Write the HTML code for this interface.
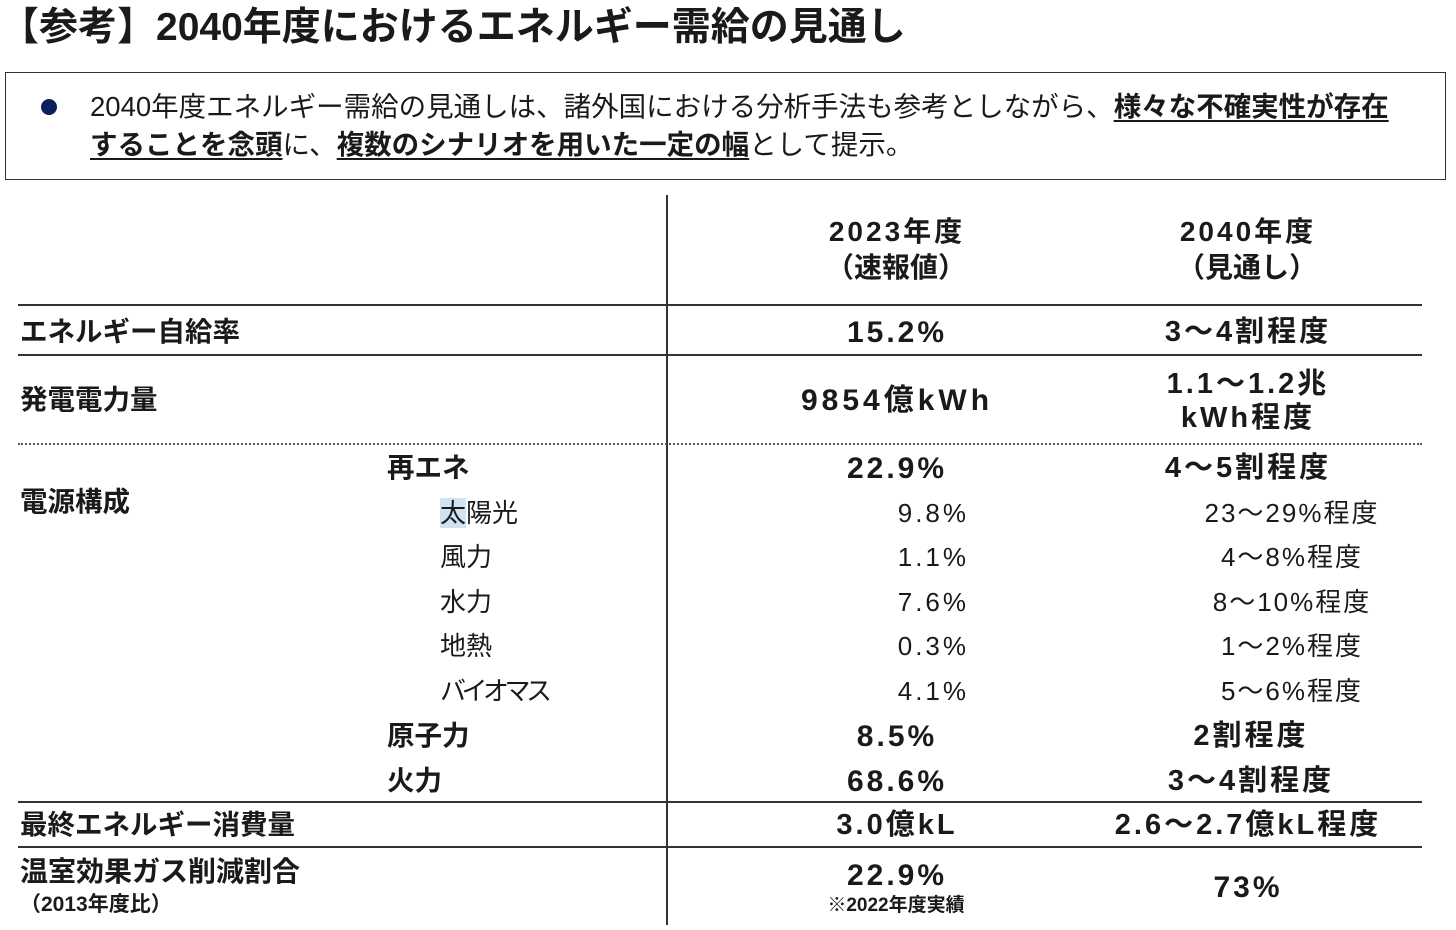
<!DOCTYPE html>
<html><head><meta charset="utf-8">
<style>
body{margin:0;width:1456px;height:930px;background:#fff;position:relative;overflow:hidden;font-family:"Liberation Sans","Noto Sans CJK JP",sans-serif;color:#1a1a1a}
.t{position:absolute;white-space:nowrap;line-height:1}
.b{font-weight:bold}
.c{transform:translateX(-50%)}
.r{transform:translateX(-100%)}
.v{letter-spacing:3px}
.s{letter-spacing:2px}
.hl{position:absolute;height:2px;background:#333}
u{text-underline-offset:4px;text-decoration-thickness:2px}
</style></head><body>
<div class="t b" style="left:0;top:8px;font-size:39px;">【参考】2040年度におけるエネルギー需給の見通し</div>

<div style="position:absolute;left:5px;top:72px;width:1439px;height:106px;border:1.5px solid #333;"></div>
<div style="position:absolute;left:41px;top:99px;width:16px;height:16px;border-radius:50%;background:#0b1f5c"></div>
<div class="t" style="left:90px;top:93px;font-size:27.5px;">2040年度エネルギー需給の見通しは、諸外国における分析手法も参考としながら、<u class="b">様々な不確実性が存在</u></div>
<div class="t" style="left:90px;top:131px;font-size:27.5px;"><u class="b">することを念頭</u>に、<u class="b">複数のシナリオを用いた一定の幅</u>として提示。</div>

<div style="position:absolute;left:666px;top:195px;width:2px;height:730px;background:#333"></div>
<div class="hl" style="left:18px;top:304px;width:1404px"></div>
<div class="hl" style="left:18px;top:354px;width:1404px"></div>
<div style="position:absolute;left:18px;top:443px;width:1404px;border-top:2px dotted #555"></div>
<div class="hl" style="left:18px;top:801px;width:1404px"></div>
<div class="hl" style="left:18px;top:846px;width:1404px"></div>

<div class="t b c v" style="left:897px;top:218px;font-size:28px;">2023年度</div>
<div class="t b c" style="left:896px;top:254px;font-size:28px;">（速報値）</div>
<div class="t b c v" style="left:1248px;top:218px;font-size:28px;">2040年度</div>
<div class="t b c" style="left:1247px;top:254px;font-size:28px;">（見通し）</div>

<div class="t b" style="left:20px;top:318px;font-size:27.5px;">エネルギー自給率</div>
<div class="t b c v" style="left:897px;top:318px;font-size:30px;">15.2%</div>
<div class="t b c v" style="left:1248px;top:318px;font-size:29px;">3～4割程度</div>

<div class="t b" style="left:20px;top:386px;font-size:27.5px;">発電電力量</div>
<div class="t b c v" style="left:897px;top:386px;font-size:30px;letter-spacing:4px">9854億kWh</div>
<div class="t b c v" style="left:1248px;top:370px;font-size:29px;">1.1～1.2兆</div>
<div class="t b c v" style="left:1248px;top:404px;font-size:29px;">kWh程度</div>

<div class="t b" style="left:20px;top:488px;font-size:27.5px;">電源構成</div>
<div class="t b" style="left:387px;top:454px;font-size:27.5px;">再エネ</div>
<div class="t b c v" style="left:897px;top:454px;font-size:30px;">22.9%</div>
<div class="t b c v" style="left:1248px;top:454px;font-size:29px;">4～5割程度</div>

<div class="t" style="left:440px;top:500px;font-size:26px;"><span style="background:#cfe3f3">太</span>陽光</div>
<div class="t r v" style="left:969px;top:500px;font-size:26px;">9.8%</div>
<div class="t c s" style="left:1292px;top:500px;font-size:26px;">23～29%程度</div>
<div class="t" style="left:440px;top:544px;font-size:26px;">風力</div>
<div class="t r v" style="left:969px;top:544px;font-size:26px;">1.1%</div>
<div class="t c s" style="left:1292px;top:544px;font-size:26px;">4～8%程度</div>
<div class="t" style="left:440px;top:589px;font-size:26px;">水力</div>
<div class="t r v" style="left:969px;top:589px;font-size:26px;">7.6%</div>
<div class="t c s" style="left:1292px;top:589px;font-size:26px;">8～10%程度</div>
<div class="t" style="left:440px;top:633px;font-size:26px;">地熱</div>
<div class="t r v" style="left:969px;top:633px;font-size:26px;">0.3%</div>
<div class="t c s" style="left:1292px;top:633px;font-size:26px;">1～2%程度</div>
<div class="t" style="left:440px;top:678px;font-size:26px;letter-spacing:-4.5px">バイオマス</div>
<div class="t r v" style="left:969px;top:678px;font-size:26px;">4.1%</div>
<div class="t c s" style="left:1292px;top:678px;font-size:26px;">5～6%程度</div>

<div class="t b" style="left:387px;top:722px;font-size:27.5px;">原子力</div>
<div class="t b c v" style="left:897px;top:722px;font-size:30px;">8.5%</div>
<div class="t b c v" style="left:1251px;top:722px;font-size:29px;">2割程度</div>
<div class="t b" style="left:387px;top:767px;font-size:27.5px;">火力</div>
<div class="t b c v" style="left:897px;top:767px;font-size:30px;">68.6%</div>
<div class="t b c v" style="left:1251px;top:767px;font-size:29px;">3～4割程度</div>

<div class="t b" style="left:20px;top:811px;font-size:27.5px;">最終エネルギー消費量</div>
<div class="t b c v" style="left:897px;top:811px;font-size:29px;">3.0億kL</div>
<div class="t b c v" style="left:1248px;top:811px;font-size:29px;">2.6～2.7億kL程度</div>

<div class="t b" style="left:20px;top:858px;font-size:28px;">温室効果ガス削減割合</div>
<div class="t b" style="left:20px;top:894px;font-size:21px;">（2013年度比）</div>
<div class="t b c v" style="left:897px;top:861px;font-size:30px;">22.9%</div>
<div class="t b c" style="left:896px;top:896px;font-size:19px;">※2022年度実績</div>
<div class="t b c v" style="left:1248px;top:873px;font-size:30px;">73%</div>
</body></html>
